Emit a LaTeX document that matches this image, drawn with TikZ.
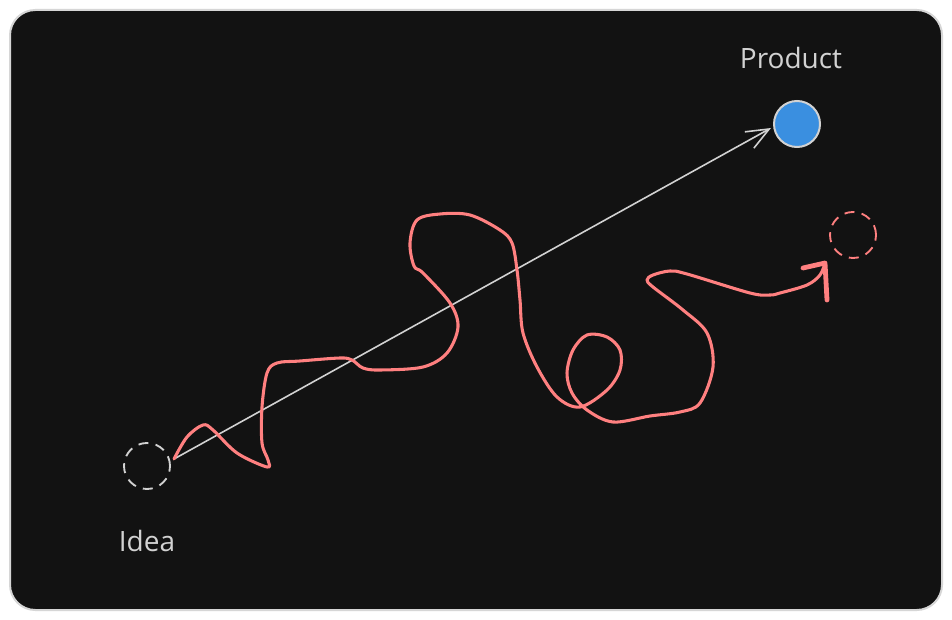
\documentclass[tikz,border=0pt]{standalone}
\usepackage{fontspec}
\setmainfont{Open Sans}
\usetikzlibrary{arrows.meta}
\definecolor{panel}{HTML}{121212}
\definecolor{frame}{HTML}{D6D6D6}
\definecolor{ink}{HTML}{D2D2D2}
\definecolor{redink}{HTML}{FF8080}
\definecolor{blueink}{HTML}{3A8FE0}
\tikzset{
  dashcirc/.style={circle, minimum size=34.5pt, inner sep=0pt, line width=1.4pt, dash pattern=on 7.5pt off 5.5pt},
  lbl/.style={text=ink, font=\fontsize{21}{24}\selectfont, inner sep=0pt},
  redpath/.style={draw=redink, line width=2.3pt, line cap=round, line join=round},
  redhead/.style={draw=redink, line width=3.6pt, line cap=round, line join=round},
  grayarrow/.style={draw=ink, line width=1.2pt, -{Straight Barb[length=17pt,width=14pt,line width=1.2pt]}}
}
\begin{document}
\begin{tikzpicture}[x=0.75pt,y=-0.75pt]
\useasboundingbox[fill=white] (0,0) rectangle (952,620);
\draw[fill=panel, draw=frame, line width=1.5pt, rounded corners=19pt] (10,10) rectangle (942,610);

% nodes
\node[dashcirc, draw=ink] (idea) at (147,466) {};
\node[lbl] (idealbl) at (147,541) {Idea};
\node[circle, minimum size=34.5pt, inner sep=0pt, fill=blueink, draw=ink, line width=1.5pt] (product) at (797,124) {};
\node[lbl] (prodlbl) at (791,58) {Product};
\node[dashcirc, draw=redink] (target) at (853,235) {};

% connector coordinates
\coordinate (s) at (174,459);
\coordinate (e) at (771,128);
\coordinate (tip) at (825,263);
\coordinate (barbA) at (803,268);
\coordinate (barbB) at (827,300);

% straight gray arrow
\draw[grayarrow] (s) -- (e);

% red wandering path
\draw[redpath] plot[smooth, tension=0.55] coordinates {
 (s) (187,437) (203,425) (213,430) (237,453) (267,467) (268,460) (262,443)
 (262,407) (267,373) (277,363) (300,361) (340,358) (352,360) (363,368) (380,370)
 (423,367) (447,353) (458,327) (450,303) (423,273) (414,266) (410,243) (417,220)
 (440,214) (470,215) (500,230) (512,243) (517,270) (520,300) (523,333) (537,367)
 (557,397) (580,407) (607,390) (620,370) (620,350) (607,337) (587,335) (573,350)
 (567,373) (572,393) (587,410) (613,422) (650,416) (680,412) (700,403) (713,367)
 (707,333) (683,310) (653,287) (647,280) (653,275) (670,271) (687,274) (750,293)
 (770,295) (780,293) (807,285) (820,275) (tip)
};
\draw[redhead] (barbA) -- (tip) -- (barbB);
\end{tikzpicture}
\end{document}
